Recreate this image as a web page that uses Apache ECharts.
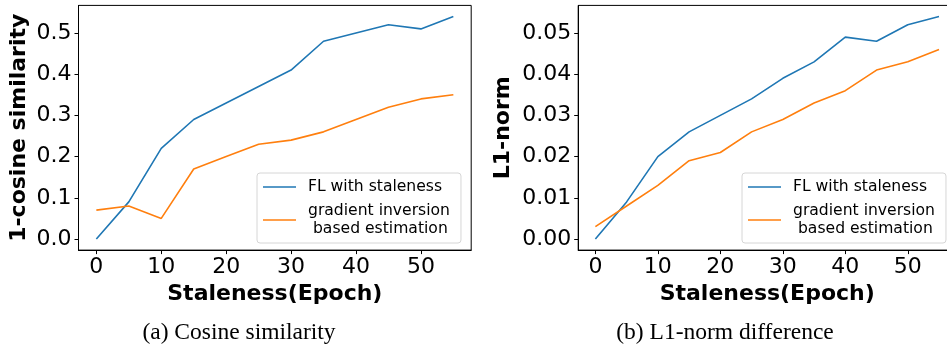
<!DOCTYPE html>
<html>
<head>
<meta charset="utf-8">
<script src="https://cdn.jsdelivr.net/npm/echarts@6/dist/echarts.min.js"></script>
<style>
    html, body { margin: 0; padding: 0; background: #fff; }
    #chart { width: 947px; height: 350px; }
</style>
</head>
<body>
<div id="chart"></div>
<script type="text/javascript">
    // staleness epochs
    let epochs = [0, 5, 10, 15, 20, 25, 30, 35, 40, 45, 50, 55];
    // (a) 1-cosine similarity
    let cosFL = [0, 0.09, 0.22, 0.29, 0.33, 0.37, 0.41, 0.48, 0.50, 0.52, 0.51, 0.54];
    let cosInv = [0.07, 0.08, 0.05, 0.17, 0.20, 0.23, 0.24, 0.26, 0.29, 0.32, 0.34, 0.35];
    // (b) L1-norm
    let l1FL = [0, 0.009, 0.020, 0.026, 0.030, 0.034, 0.039, 0.043, 0.049, 0.048, 0.052, 0.054];
    let l1Inv = [0.003, 0.008, 0.013, 0.019, 0.021, 0.026, 0.029, 0.033, 0.036, 0.041, 0.043, 0.046];
    // tick labels
    let xTicks = [0, 10, 20, 30, 40, 50];
    let cosTicks = [0, 0.1, 0.2, 0.3, 0.4, 0.5];
    let l1Ticks = [0, 0.01, 0.02, 0.03, 0.04, 0.05];
    let nameFL = 'FL with staleness';
    let nameInv = 'gradient inversion\n based estimation';

    let blue = '#1f77b4';
    let orange = '#ff7f0e';
    let sans = 'DejaVu Sans';

    function pairs(ys) {
        return epochs.map(function (x, i) { return [x, ys[i]]; });
    }

    function xAxis(gridIndex) {
        return {
            type: 'value', gridIndex: gridIndex, min: -2.75, max: 57.75,
            name: 'Staleness(Epoch)', nameLocation: 'middle', nameGap: 31,
            nameTextStyle: {fontFamily: sans, fontSize: 22, fontWeight: 'bold', color: '#000'},
            axisLine: {show: true, onZero: false, lineStyle: {color: '#000', width: 1}},
            axisTick: {show: true, length: 4, customValues: xTicks, lineStyle: {color: '#000'}},
            axisLabel: {customValues: xTicks, margin: 6, fontFamily: sans, fontSize: 22, color: '#000'},
            splitLine: {show: false}
        };
    }

    function yAxis(gridIndex, min, max, ticks, digits, name, gap) {
        return {
            type: 'value', gridIndex: gridIndex, min: min, max: max,
            name: name, nameLocation: 'middle', nameGap: gap, nameRotate: 90,
            nameTextStyle: {fontFamily: sans, fontSize: 22, fontWeight: 'bold', color: '#000'},
            axisLine: {show: true, onZero: false, lineStyle: {color: '#000', width: 1}},
            axisTick: {show: true, length: 4, customValues: ticks, lineStyle: {color: '#000'}},
            axisLabel: {
                customValues: ticks, margin: 7, fontFamily: sans, fontSize: 22, color: '#000',
                formatter: function (v) { return v.toFixed(digits); }
            },
            splitLine: {show: false}
        };
    }

    function legend(left) {
        return {
            left: left, top: 173, orient: 'vertical',
            data: [nameFL, nameInv],
            icon: 'rect', itemWidth: 33, itemHeight: 1.6, itemGap: 6,
            padding: [5, 11, 5, 6],
            backgroundColor: 'rgba(255,255,255,0.8)',
            borderColor: '#d6d6d6', borderWidth: 1, borderRadius: 3,
            selectedMode: false,
            textStyle: {fontFamily: sans, fontSize: 15.6, lineHeight: 18, color: '#000', padding: [0, 0, 0, 7]}
        };
    }

    function line(name, data, color, idx) {
        return {
            name: name, type: 'line', data: pairs(data), xAxisIndex: idx, yAxisIndex: idx,
            showSymbol: false, symbol: 'none', lineStyle: {color: color, width: 1.6}, itemStyle: {color: color}
        };
    }

    let myChart = echarts.init(document.getElementById('chart'), null, {renderer: 'canvas'});
    let option = {
        animation: false,
        backgroundColor: '#fff',
        grid: [
            {left: 78.5, width: 392.7, top: 5.4, height: 244.7, show: true, borderColor: '#000', borderWidth: 1, outerBoundsMode: 'none'},
            {left: 578.2, width: 378, top: 5.4, height: 244.7, show: true, borderColor: '#000', borderWidth: 1, outerBoundsMode: 'none'}
        ],
        xAxis: [xAxis(0), xAxis(1)],
        yAxis: [
            yAxis(0, -0.027, 0.567, cosTicks, 1, '1-cosine similarity', 48),
            yAxis(1, -0.0027, 0.0567, l1Ticks, 2, 'L1-norm', 64)
        ],
        legend: [legend(257), legend(742)],
        series: [
            line(nameFL, cosFL, blue, 0),
            line(nameInv, cosInv, orange, 0),
            line(nameFL, l1FL, blue, 1),
            line(nameInv, l1Inv, orange, 1)
        ],
        graphic: [
            {type: 'text', x: 239, y: 333, style: {text: '(a) Cosine similarity', fontFamily: 'Liberation Serif', fontSize: 23.5, fill: '#000', align: 'center', verticalAlign: 'middle'}},
            {type: 'text', x: 725, y: 333, style: {text: '(b) L1-norm difference', fontFamily: 'Liberation Serif', fontSize: 23.5, fill: '#000', align: 'center', verticalAlign: 'middle'}}
        ]
    };
    myChart.setOption(option);
</script>
</body>
</html>
